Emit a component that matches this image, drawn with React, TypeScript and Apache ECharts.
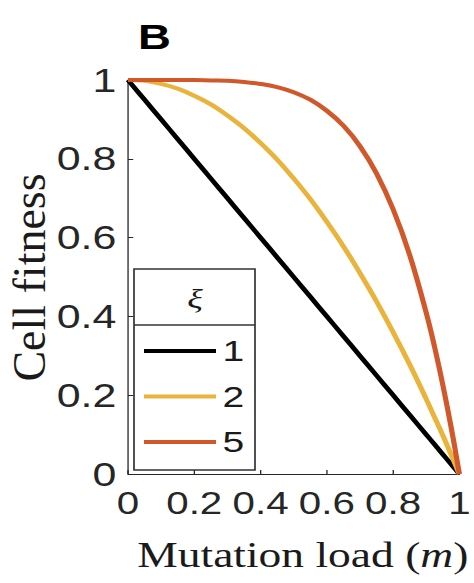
import React, { useEffect, useRef } from "react";
import * as echarts from "echarts";

// Horizontal stretch of the reference picture
const S = 1.3;
const W = 474;
const H = 583;
const innerW = W / S;

// Mutation load (m) sample points
const mutationLoad = [0, 0.05, 0.1, 0.15, 0.2, 0.25, 0.3, 0.35, 0.4, 0.45, 0.5, 0.55, 0.6, 0.65, 0.7, 0.75, 0.8, 0.85, 0.9, 0.925, 0.95, 0.975, 1];
// Cell fitness for xi = 1, 2, 5
const fitnessXi1 = [1, 0.95, 0.9, 0.85, 0.8, 0.75, 0.7, 0.65, 0.6, 0.55, 0.5, 0.45, 0.4, 0.35, 0.3, 0.25, 0.2, 0.15, 0.1, 0.075, 0.05, 0.025, 0];
const fitnessXi2 = [1, 0.998, 0.99, 0.978, 0.96, 0.938, 0.91, 0.878, 0.84, 0.798, 0.75, 0.698, 0.64, 0.578, 0.51, 0.438, 0.36, 0.278, 0.19, 0.144, 0.098, 0.049, 0];
const fitnessXi5 = [1, 1, 1, 1, 1, 0.999, 0.998, 0.995, 0.99, 0.982, 0.969, 0.95, 0.922, 0.884, 0.832, 0.763, 0.672, 0.556, 0.409, 0.323, 0.226, 0.119, 0];

const seriesNames = ["1", "2", "5"];
const seriesColors = ["#000000", "#E9B33C", "#D0582A"];
const xTicks = [0, 0.2, 0.4, 0.6, 0.8, 1];

const pair = (ys: number[]) => mutationLoad.map((m, i) => [m, ys[i]]);

export default function App() {
  const ref = useRef<HTMLDivElement>(null);
  useEffect(() => {
    const chart = echarts.init(ref.current!, null, { renderer: "svg" });
    const allY = [fitnessXi1, fitnessXi2, fitnessXi5];
    chart.setOption({
      animation: false,
      backgroundColor: "#ffffff",
      grid: { left: 128 / S, right: (W - 466) / S, top: 80, bottom: H - 474, containLabel: false },
      xAxis: {
        type: "value",
        min: xTicks[0],
        max: xTicks[xTicks.length - 1],
        interval: 0.2,
        splitLine: { show: false },
        axisLine: { show: true, lineStyle: { color: "#262626", width: 1 } },
        axisTick: { show: true, inside: true, length: 4, lineStyle: { color: "#262626" } },
        axisLabel: { fontFamily: "Liberation Sans", fontSize: 31, color: "#262626", margin: 14 },
        name: "Mutation load ({i|m})",
        nameLocation: "middle",
        nameGap: 64,
        nameTextStyle: {
          fontFamily: "Liberation Serif",
          fontSize: 35,
          color: "#1a1a1a",
          padding: [0, 0, 0, 14],
          rich: { i: { fontFamily: "Liberation Serif", fontStyle: "italic", fontSize: 35, color: "#1a1a1a" } },
        },
      },
      yAxis: {
        type: "value",
        min: 0,
        max: 1,
        interval: 0.2,
        splitLine: { show: false },
        axisLine: { show: true, lineStyle: { color: "#262626", width: 1 } },
        axisTick: { show: true, inside: true, length: 4, lineStyle: { color: "#262626" } },
        axisLabel: { fontFamily: "Liberation Sans", fontSize: 33, color: "#262626", margin: 9 },
      },
      legend: {
        data: seriesNames,
        orient: "vertical",
        left: 144 / S,
        top: 336,
        padding: 0,
        icon: "rect",
        itemWidth: 72 / S,
        itemHeight: 4,
        itemGap: 15.5,
        selectedMode: false,
        textStyle: { fontFamily: "Liberation Sans", fontSize: 30, lineHeight: 30, color: "#1a1a1a" },
        z: 10,
      },
      graphic: [
        {
          type: "text",
          z: 6,
          x: 138 / S,
          y: 37,
          style: {
            text: "B",
            fontFamily: "Liberation Sans",
            fontWeight: "bold",
            fontSize: 35,
            fill: "#000000",
            textAlign: "left",
            textVerticalAlign: "middle",
          },
        },
        {
          type: "rect",
          z: 5,
          shape: { x: 134 / S, y: 269, width: 121 / S, height: 201 },
          style: { fill: "#ffffff", stroke: "#333333", lineWidth: 1.3 },
        },
        {
          type: "line",
          z: 6,
          shape: { x1: 134 / S, y1: 325, x2: 255 / S, y2: 325 },
          style: { stroke: "#333333", lineWidth: 1.3 },
        },
        {
          type: "text",
          z: 6,
          x: 195 / S,
          y: 299,
          style: {
            text: "ξ",
            fontFamily: "Liberation Serif",
            fontStyle: "italic",
            fontSize: 28,
            fill: "#1a1a1a",
            textAlign: "center",
            textVerticalAlign: "middle",
          },
        },
        {
          type: "text",
          z: 6,
          x: 30 / S,
          y: 277.5,
          rotation: Math.PI / 2,
          scaleY: 1 / S,
          style: {
            text: "Cell fitness",
            fontFamily: "Liberation Serif",
            fontSize: 46,
            fill: "#1a1a1a",
            textAlign: "center",
            textVerticalAlign: "middle",
          },
        },
      ],
      series: seriesNames.map((name, k) => ({
        name,
        type: "line",
        data: pair(allY[k]),
        showSymbol: false,
        symbol: "none",
        smooth: 0.4,
        clip: false,
        color: seriesColors[k],
        lineStyle: { color: seriesColors[k], width: 4 },
        z: 2 + k,
      })),
    });
    return () => chart.dispose();
  }, []);
  return (
    <div style={{ position: "fixed", left: 0, top: 0, width: W, height: H, overflow: "hidden", background: "#fff" }}>
      <div ref={ref} style={{ width: innerW, height: H, transform: `scaleX(${S})`, transformOrigin: "0 0" }} />
    </div>
  );
}
